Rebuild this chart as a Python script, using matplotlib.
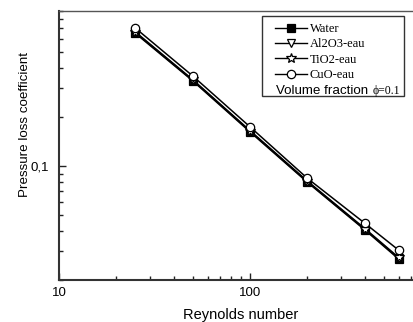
import matplotlib
matplotlib.use("Agg")
import matplotlib.pyplot as plt
from matplotlib.lines import Line2D
from matplotlib.patches import Rectangle
from matplotlib.ticker import FixedLocator, NullFormatter, FuncFormatter

reynolds = [25, 50, 100, 200, 400, 600]
water = [0.655, 0.334, 0.162, 0.0794, 0.0405, 0.0269]
al2o3 = [0.662, 0.337, 0.164, 0.0801, 0.0409, 0.0272]
tio2 = [0.668, 0.340, 0.165, 0.0808, 0.0413, 0.0275]
cuo = [0.705, 0.358, 0.174, 0.0840, 0.0445, 0.0305]
labels = ["Water", "Al2O3-eau", "TiO2-eau", "CuO-eau"]

fig = plt.figure(figsize=(4.14, 3.22), dpi=100)
W, H = 414, 322
x0, x1 = 59, 416
y_top, y_bot = 10.5, 280
ax = fig.add_axes([x0 / W, (H - y_bot) / H, (x1 - x0) / W, (y_bot - y_top) / H])

ax.set_xscale("log")
ax.set_yscale("log")
ax.set_xlim(10, 10 ** (1 + (x1 - x0) / 191.0))
ax.set_ylim(0.02, 0.9)

styles = [
    dict(marker="s", mfc="black", mec="black", ms=5.5),
    dict(marker="v", mfc="white", mec="black", ms=6),
    dict(marker="*", mfc="white", mec="black", ms=7),
    dict(marker="o", mfc="white", mec="black", ms=6),
]
series = [water, al2o3, tio2, cuo]
handles = []
for vals, st, lab in zip(series, styles, labels):
    ax.plot(reynolds, vals, color="black", lw=1.1, mew=0.9, **st, zorder=3)
    handles.append(Line2D([], [], color="black", lw=1.0, mew=0.9, **st))

# ticks
ax.xaxis.set_major_locator(FixedLocator([10, 100]))
ax.xaxis.set_minor_locator(FixedLocator([20, 30, 40, 50, 60, 70, 80, 90,
                                         200, 300, 400, 500, 600, 700]))
ax.xaxis.set_major_formatter(FuncFormatter(lambda v, p: "%d" % v))
ax.xaxis.set_minor_formatter(NullFormatter())
ax.yaxis.set_major_locator(FixedLocator([0.1]))
ax.yaxis.set_minor_locator(FixedLocator([0.02, 0.03, 0.04, 0.05, 0.06, 0.07, 0.08, 0.09,
                                         0.2, 0.3, 0.4, 0.5, 0.6, 0.7, 0.8, 0.9]))
ax.yaxis.set_major_formatter(FuncFormatter(lambda v, p: "0,1"))
ax.yaxis.set_minor_formatter(NullFormatter())
ax.tick_params(which="both", direction="in", color="#222222", width=1.0,
               labelsize=9.5, labelfontfamily="Liberation Sans")
ax.tick_params(which="major", length=5)
ax.tick_params(which="minor", length=3)
ax.tick_params(axis="x", which="major", pad=5)
ax.tick_params(axis="y", which="major", pad=7)

for s in ["left", "bottom"]:
    ax.spines[s].set_linewidth(1.5)
    ax.spines[s].set_color("#333333")
ax.spines["top"].set_linewidth(1.0)
ax.spines["top"].set_color("#555555")
ax.spines["right"].set_visible(False)


def axfx(px):
    return (px - x0) / (x1 - x0)


def axfy(py):
    return (y_bot - py) / (y_bot - y_top)


ax.set_xlabel("Reynolds number", fontsize=10.5, family="Liberation Sans")
ax.xaxis.set_label_coords(axfx(240.5), axfy(308.5))
ax.set_ylabel("Pressure loss coefficient", fontsize=9.6, family="Liberation Sans")
ax.yaxis.set_label_coords(axfx(31), axfy(124.5))

# legend
frame = Rectangle((axfx(262), axfy(95.7)), axfx(404) - axfx(262), axfy(15.7) - axfy(95.7),
                  transform=ax.transAxes, fill=True, facecolor="white",
                  edgecolor="#333333", lw=1.0, zorder=5)
ax.add_patch(frame)
leg = ax.legend(handles, labels, loc="upper left",
                bbox_to_anchor=(axfx(275.5), axfy(23)), frameon=False,
                prop={"family": "Liberation Serif", "size": 9.0},
                handlelength=2.5, handletextpad=0.25, labelspacing=0.27,
                borderpad=0, borderaxespad=0)
leg.set_zorder(6)
t = ax.text(axfx(276.5), axfy(94.3), "Volume fraction ", transform=ax.transAxes,
            fontsize=9.6, family="Liberation Sans", va="baseline", ha="left", zorder=7)
fig.canvas.draw()
bb = t.get_window_extent()
inv = ax.transAxes.inverted()
xe = inv.transform((bb.x1, bb.y0))[0]
ax.text(xe, axfy(94.3), "ϕ=0.1", transform=ax.transAxes, fontsize=8.5,
        family=["Liberation Serif", "DejaVu Serif"], va="baseline", ha="left", zorder=7)

fig.savefig("out.png", dpi=100)
